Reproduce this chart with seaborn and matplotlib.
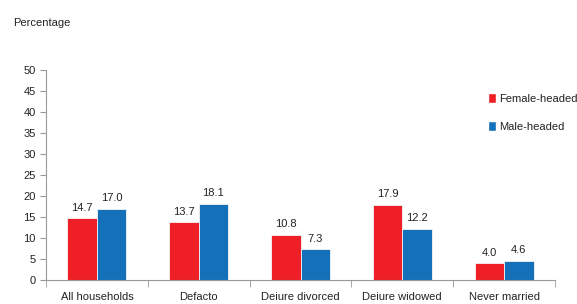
import matplotlib
matplotlib.use("Agg")
import matplotlib.pyplot as plt
import seaborn as sns
import pandas as pd
from matplotlib.patches import Patch

categories = ["All households", "Defacto", "Deiure divorced", "Deiure widowed", "Never married"]
female = [14.7, 13.7, 10.8, 17.9, 4.0]
male = [17.0, 18.1, 7.3, 12.2, 4.6]
series_names = ["Female-headed", "Male-headed"]
yticks = list(range(0, 51, 5))

colors = ["#EE1F26", "#1470B9"]

sns.set_style("white")
plt.rcParams['font.family'] = ['Liberation Sans Narrow', 'Liberation Sans', 'DejaVu Sans']

df = pd.DataFrame({
    "cat": categories * 2,
    "val": female + male,
    "series": [series_names[0]] * len(categories) + [series_names[1]] * len(categories),
})

fs = 8
fig = plt.figure(figsize=(5.77, 3.04), dpi=100)
ax = fig.add_axes([46/577, 1-280/304, (555-46)/577, 210/304])
sns.barplot(data=df, x="cat", y="val", hue="series", palette=colors, width=0.58,
            ax=ax, legend=False, linewidth=0.6, edgecolor="#f4f4f4", saturation=1)

for cont in ax.containers:
    ax.bar_label(cont, fmt="%.1f", padding=4, fontsize=fs, color="#222222")

ax.set_ylim(0, 50)
ax.set_xlim(-0.5, 4.5)
ax.set_yticks(yticks)
ax.set_xlabel("")
ax.set_ylabel("")
ax.tick_params(axis="y", labelsize=fs, length=4, color="#999999", direction="out", left=True, labelcolor="#222222")
ax.tick_params(axis="x", which="major", length=0, labelsize=fs, pad=9, labelcolor="#222222")
ax.set_xticks([i + 0.5 for i in range(-1, 5)], minor=True)
ax.tick_params(axis="x", which="minor", length=5, color="#999999", direction="out", bottom=True)
for s in ["top", "right"]:
    ax.spines[s].set_visible(False)
for s in ["left", "bottom"]:
    ax.spines[s].set_color("#999999")
    ax.spines[s].set_linewidth(0.8)

handles = [Patch(facecolor=c, label=n) for c, n in zip(colors, series_names)]
ax.legend(handles=handles, loc="upper left", bbox_to_anchor=(0.86, 0.91), frameon=False,
          fontsize=fs, handlelength=0.7, handleheight=1.0, handletextpad=0.3, labelspacing=1.5,
          labelcolor="#222222", borderaxespad=0)

fig.text(13/577, 1-23/304, "Percentage", fontsize=fs, va="center", ha="left", color="#222222")

fig.savefig("out.png", dpi=100)
